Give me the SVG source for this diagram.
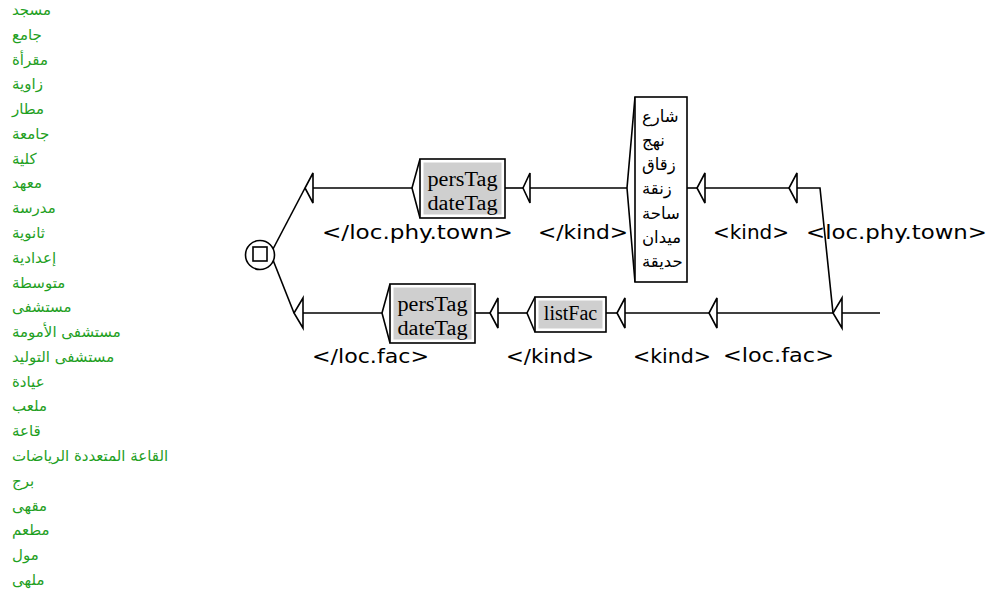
<svg xmlns="http://www.w3.org/2000/svg" width="992" height="598" viewBox="0 0 992 598">
<style>
  .ln{stroke:#000;stroke-width:1.6;fill:none}
  .tri{stroke:#000;stroke-width:1.6;fill:#fff;stroke-linejoin:miter}
  .bx{stroke:#000;stroke-width:1.6;fill:#fff}
  .gr{fill:#cfcfcf;stroke:none}
  .out{font-family:"DejaVu Sans",Verdana,sans-serif;font-size:20px;fill:#000}
  .sv{font-family:"Liberation Serif","Times New Roman",serif;font-size:20px;fill:#000;text-anchor:middle}
  .arb{font-family:"DejaVu Sans",sans-serif;font-size:16.5px;fill:#000}
  .ar{font-family:"DejaVu Sans",sans-serif;font-size:15px;fill:#1fa01f}
</style>
<rect width="992" height="598" fill="#fff"/>

<g id="wordlist">
  <text class="ar" x="12" y="15">مسجد</text>
  <text class="ar" x="12" y="40">جامع</text>
  <text class="ar" x="12" y="65">مقرأة</text>
  <text class="ar" x="12" y="89">زاوية</text>
  <text class="ar" x="12" y="114">مطار</text>
  <text class="ar" x="12" y="139">جامعة</text>
  <text class="ar" x="12" y="164">كلية</text>
  <text class="ar" x="12" y="188">معهد</text>
  <text class="ar" x="12" y="213">مدرسة</text>
  <text class="ar" x="12" y="238">ثانوية</text>
  <text class="ar" x="12" y="263">إعدادية</text>
  <text class="ar" x="12" y="288">متوسطة</text>
  <text class="ar" x="12" y="312">مستشفى</text>
  <text class="ar" x="12" y="337">مستشفى الأمومة</text>
  <text class="ar" x="12" y="362">مستشفى التوليد</text>
  <text class="ar" x="12" y="387">عيادة</text>
  <text class="ar" x="12" y="411">ملعب</text>
  <text class="ar" x="12" y="436">قاعة</text>
  <text class="ar" x="12" y="461">القاعة المتعددة الرياضات</text>
  <text class="ar" x="12" y="486">برج</text>
  <text class="ar" x="12" y="511">مقهى</text>
  <text class="ar" x="12" y="535">مطعم</text>
  <text class="ar" x="12" y="560">مول</text>
  <text class="ar" x="12" y="585">ملهى</text>
</g>

<g id="connectors">
  <line class="ln" x1="273" y1="249" x2="305" y2="188"/>
  <line class="ln" x1="273" y1="260" x2="294" y2="313"/>
  <line class="ln" x1="313" y1="188" x2="412" y2="188"/>
  <line class="ln" x1="505" y1="188" x2="523" y2="188"/>
  <line class="ln" x1="530" y1="188" x2="627" y2="188"/>
  <line class="ln" x1="687" y1="188" x2="697" y2="188"/>
  <line class="ln" x1="705" y1="188" x2="789" y2="188"/>
  <polyline class="ln" points="797,188 820,188 833,313"/>
  <line class="ln" x1="303" y1="313" x2="382" y2="313"/>
  <line class="ln" x1="475" y1="313" x2="490" y2="313"/>
  <line class="ln" x1="498" y1="313" x2="527" y2="313"/>
  <line class="ln" x1="606" y1="313" x2="617" y2="313"/>
  <line class="ln" x1="625" y1="313" x2="709" y2="313"/>
  <line class="ln" x1="717" y1="313" x2="833" y2="313"/>
  <line class="ln" x1="842" y1="313" x2="880" y2="313"/>
</g>

<g id="final">
  <circle cx="260" cy="255" r="14.5" fill="#fff" stroke="#000" stroke-width="1.6"/>
  <rect x="253" y="247" width="14" height="14" fill="none" stroke="#000" stroke-width="1.6"/>
</g>

<g id="t1">
  <path class="tri" d="M313,173 L305,188 L313,203 Z"/>
  <text class="out" x="322" y="239" textLength="191" lengthAdjust="spacingAndGlyphs">&lt;/loc.phy.town&gt;</text>
</g>
<g id="b1">
  <path class="ln" d="M420,159 L412,188 L420,218"/>
  <rect class="bx" x="420" y="159" width="85" height="59"/>
  <rect class="gr" x="423.5" y="162.5" width="78" height="52"/>
  <text class="sv" x="462.5" y="186" textLength="70" lengthAdjust="spacingAndGlyphs">persTag</text>
  <text class="sv" x="462.5" y="210" textLength="70" lengthAdjust="spacingAndGlyphs">dateTag</text>
</g>
<g id="t2">
  <path class="tri" d="M530,173 L523,188 L530,203 Z"/>
  <text class="out" x="538" y="239" textLength="90" lengthAdjust="spacingAndGlyphs">&lt;/kind&gt;</text>
</g>
<g id="street">
  <path class="ln" d="M635,97 L627,188 L635,282"/>
  <rect class="bx" x="635" y="97" width="52" height="185"/>
  <text class="arb" x="642" y="122">شارع</text>
  <text class="arb" x="642" y="146">نهج</text>
  <text class="arb" x="642" y="170">زقاق</text>
  <text class="arb" x="642" y="194">زنقة</text>
  <text class="arb" x="642" y="219">ساحة</text>
  <text class="arb" x="642" y="243">ميدان</text>
  <text class="arb" x="642" y="267">حديقة</text>
</g>
<g id="t3">
  <path class="tri" d="M705,173 L697,188 L705,203 Z"/>
  <text class="out" x="713" y="239" textLength="76" lengthAdjust="spacingAndGlyphs">&lt;kind&gt;</text>
</g>
<g id="t4">
  <path class="tri" d="M797,173 L789,188 L797,203 Z"/>
  <text class="out" x="806" y="239" textLength="181" lengthAdjust="spacingAndGlyphs">&lt;loc.phy.town&gt;</text>
</g>

<g id="t5">
  <path class="tri" d="M303,298 L294,313 L303,328 Z"/>
  <text class="out" x="312" y="363" textLength="117" lengthAdjust="spacingAndGlyphs">&lt;/loc.fac&gt;</text>
</g>
<g id="b2">
  <path class="ln" d="M390,284 L382,313 L390,343"/>
  <rect class="bx" x="390" y="284" width="85" height="59"/>
  <rect class="gr" x="393.5" y="287.5" width="78" height="52"/>
  <text class="sv" x="432.5" y="311" textLength="70" lengthAdjust="spacingAndGlyphs">persTag</text>
  <text class="sv" x="432.5" y="335" textLength="70" lengthAdjust="spacingAndGlyphs">dateTag</text>
</g>
<g id="t6">
  <path class="tri" d="M498,298 L490,313 L498,328 Z"/>
  <text class="out" x="506" y="363" textLength="88" lengthAdjust="spacingAndGlyphs">&lt;/kind&gt;</text>
</g>
<g id="b3">
  <path class="ln" d="M535,297 L527,313 L535,332"/>
  <rect class="bx" x="535" y="297" width="71" height="35"/>
  <rect class="gr" x="538.5" y="300.5" width="64" height="28"/>
  <text class="sv" x="570.5" y="320" font-size="18">listFac</text>
</g>
<g id="t7">
  <path class="tri" d="M625,298 L617,313 L625,328 Z"/>
  <text class="out" x="633" y="363" textLength="78" lengthAdjust="spacingAndGlyphs">&lt;kind&gt;</text>
</g>
<g id="t9">
  <path class="tri" d="M717,298 L709,313 L717,328 Z"/>
  <text class="out" x="723" y="362" textLength="111" lengthAdjust="spacingAndGlyphs">&lt;loc.fac&gt;</text>
</g>
<g id="t8">
  <path class="tri" d="M842,298 L833,313 L842,328 Z"/>
</g>
</svg>
